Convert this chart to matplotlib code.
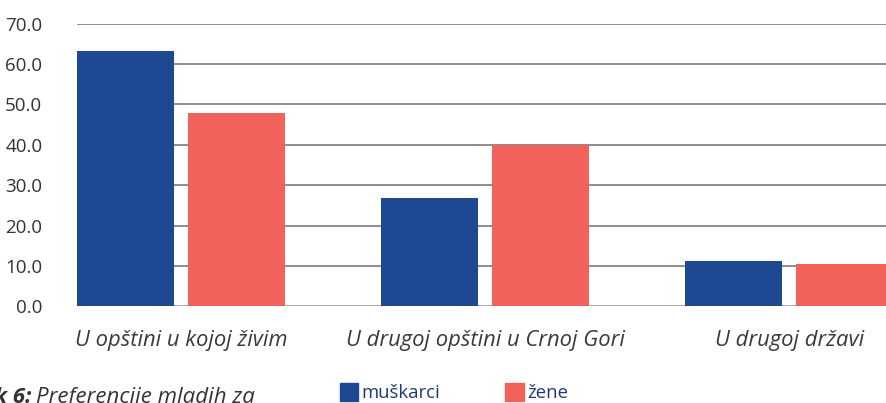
import matplotlib
matplotlib.use('Agg')
import matplotlib.pyplot as plt
import numpy as np

plt.rcParams['font.family'] = ['Open Sans', 'DejaVu Sans']

categories = ['U opštini u kojoj živim', 'U drugoj opštini u Crnoj Gori', 'U drugoj državi']
muskarci = [63.2, 26.8, 11.2]
zene = [47.9, 39.9, 10.5]
y_ticks = [0, 10, 20, 30, 40, 50, 60, 70]

BLUE = '#1E4892'
RED = '#F1635A'

fig = plt.figure(figsize=(8.87, 4.03), dpi=100)
ax = fig.add_axes([77 / 887, 96.6 / 403, 810 / 887, 282.8 / 403])

x = np.arange(len(categories))
w = 0.319
off = 0.1826
ax.bar(x - off, muskarci, w, color=BLUE, zorder=3)
ax.bar(x + off, zene, w, color=RED, zorder=3)

ax.set_xlim(-0.342, 2.322)
ax.set_ylim(0, 70)
ax.set_yticks(y_ticks)
ax.set_yticklabels([f'{v:.1f}' for v in y_ticks], fontsize=13.5, color='#333333')
ax.tick_params(axis='y', length=0, pad=25)
ax.tick_params(axis='x', length=0, pad=17)
ax.set_xticks(x)
ax.set_xticklabels(categories, fontsize=15.8, style='italic', color='#3a3a3a')
ax.yaxis.grid(True, color='#7a7a7a', linewidth=1.2, zorder=0)
for s in ax.spines.values():
    s.set_visible(False)
ax.axhline(0, color='#b0b0b0', linewidth=2, zorder=2)

# legend
fig.patches.append(plt.Rectangle((340 / 887, 2 / 403), 18 / 887, 18 / 403,
                                 transform=fig.transFigure, color=BLUE))
fig.text(361 / 887, 10 / 403, 'muškarci', fontsize=13.3, color='#1E3A78', va='center')
fig.patches.append(plt.Rectangle((505 / 887, 2 / 403), 19 / 887, 18 / 403,
                                 transform=fig.transFigure, color=RED))
fig.text(527 / 887, 10 / 403, 'žene', fontsize=13.3, color='#1E3A78', va='center')

# caption (clipped at bottom left, as in the reference)
fig.text(31 / 887, 0.5 / 403, 'Grafik 6:', fontsize=16, style='italic', weight='bold',
         color='#333333', ha='right', va='baseline')
fig.text(36 / 887, 0.5 / 403, 'Preferencije mladih za', fontsize=16, style='italic',
         color='#333333', ha='left', va='baseline')

plt.savefig('out.png', dpi=100)
plt.close()
